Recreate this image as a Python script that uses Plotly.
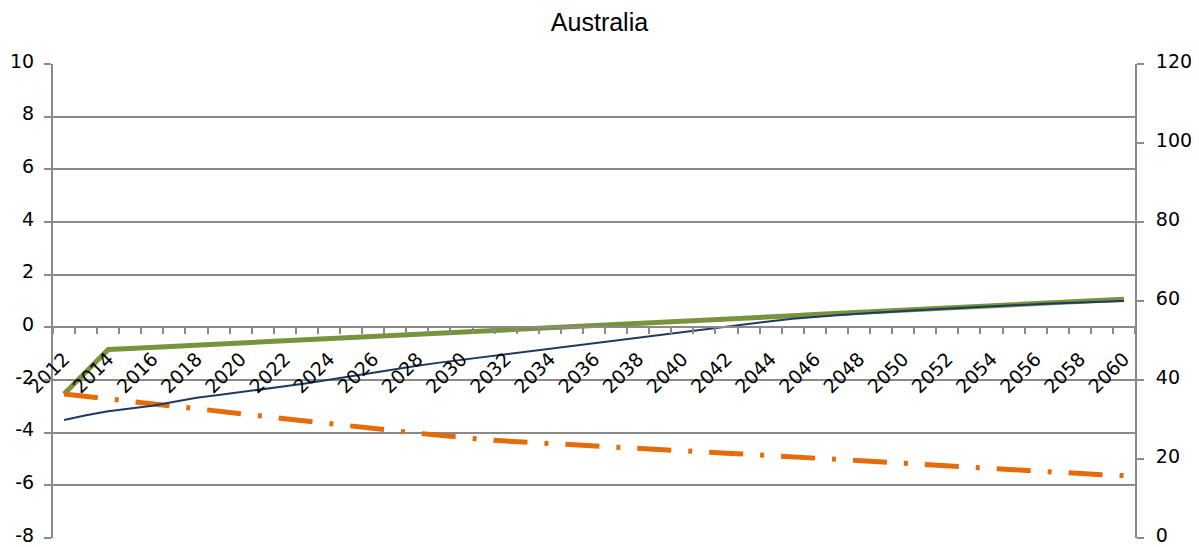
import plotly.graph_objects as go

years = list(range(2012, 2061))

# Green series (left axis)
green = [-2.53, -1.69, -0.84, -0.80, -0.76, -0.72, -0.68, -0.64, -0.60, -0.56,
         -0.51, -0.47, -0.43, -0.39, -0.34, -0.30, -0.26, -0.22, -0.18, -0.14,
         -0.10, -0.06, -0.02, 0.03, 0.07, 0.11, 0.15, 0.19, 0.23, 0.28,
         0.32, 0.36, 0.40, 0.44, 0.49, 0.53, 0.57, 0.61, 0.65, 0.70,
         0.74, 0.78, 0.82, 0.86, 0.91, 0.95, 0.99, 1.03, 1.07]

# Navy series (right axis)
navy = [29.9, 31.1, 32.1, 32.8, 33.5, 34.5, 35.5, 36.2, 36.9, 37.6,
        38.4, 39.2, 40.1, 41.0, 41.9, 42.8, 43.6, 44.4, 45.1, 45.8,
        46.6, 47.3, 48.0, 48.7, 49.4, 50.1, 50.8, 51.5, 52.2, 52.9,
        53.6, 54.3, 54.9, 55.5, 56.0, 56.4, 56.8, 57.2, 57.5, 57.8,
        58.1, 58.4, 58.7, 58.9, 59.2, 59.4, 59.6, 59.8, 60.0]

# Orange series (left axis)
orange = [-2.53, -2.62, -2.70, -2.80, -2.90, -2.99, -3.08, -3.18, -3.27, -3.37,
          -3.47, -3.57, -3.67, -3.76, -3.84, -3.93, -4.02, -4.11, -4.19, -4.26,
          -4.32, -4.37, -4.42, -4.46, -4.50, -4.54, -4.59, -4.64, -4.68, -4.73,
          -4.78, -4.82, -4.87, -4.92, -4.97, -5.01, -5.07, -5.13, -5.16, -5.21,
          -5.26, -5.31, -5.35, -5.41, -5.46, -5.51, -5.56, -5.60, -5.63]

label_years = years[::2]
tick_bounds = [y - 0.5 for y in years] + [years[-1] + 0.5]

left_ticks = [-8, -6, -4, -2, 0, 2, 4, 6, 8, 10]
left_text = [str(v) for v in left_ticks]          # plain hyphen minus
right_ticks = [0, 20, 40, 60, 80, 100, 120]
right_text = [str(v) for v in right_ticks]

GRID = "#8a8a8a"
FONT = "DejaVu Sans"

# page body has an 8px margin; figure is sized so the plot lands where the reference has it
W, H = 1191, 539

fig = go.Figure()
fig.add_trace(go.Scatter(x=years, y=green, mode="lines", yaxis="y",
                         line=dict(color="#77933C", width=5), hoverinfo="skip"))
fig.add_trace(go.Scatter(x=years, y=orange, mode="lines", yaxis="y",
                         line=dict(color="#E46C0A", width=5, dash="34px,17px,4px,17px"),
                         hoverinfo="skip"))
fig.add_trace(go.Scatter(x=years, y=navy, mode="lines", yaxis="y2",
                         line=dict(color="#1F3864", width=2), hoverinfo="skip"))

fig.update_layout(
    width=W, height=H,
    margin=dict(l=45, r=64, t=56, b=9, autoexpand=False),
    paper_bgcolor="white", plot_bgcolor="white",
    showlegend=False,
    font=dict(family=FONT, size=19, color="black"),
    title=dict(text="Australia", x=(599.5 - 8) / W, xref="container", xanchor="center",
               y=1 - 14 / H, yref="container", yanchor="middle", automargin=False,
               font=dict(family="Liberation Sans", size=25, color="black")),
    xaxis=dict(type="linear", range=[2011.5, 2060.5], anchor="free", position=8 / 18,
               automargin=False,
               tickmode="array", tickvals=label_years, ticktext=[str(y) for y in label_years],
               ticks="", tickangle=-45, showgrid=False, zeroline=False,
               showline=True, linecolor=GRID, linewidth=2, ticklabelstandoff=12,
               tickfont=dict(family=FONT, size=19),
               minor=dict(tickmode="array", tickvals=tick_bounds, ticks="outside",
                          ticklen=6, tickwidth=1.5, tickcolor=GRID, showgrid=False)),
    yaxis=dict(range=[-8, 10], tickmode="array", tickvals=left_ticks, ticktext=left_text,
               automargin=False,
               showgrid=True, gridcolor=GRID, gridwidth=1.6, zeroline=False,
               showline=True, linecolor=GRID, linewidth=2, ticks="outside", ticklen=7,
               tickcolor=GRID, tickwidth=1.5, ticklabelstandoff=6, ticklabelshift=-3,
               ticklabeloverflow="allow", tickfont=dict(family=FONT, size=19)),
    yaxis2=dict(range=[0, 120], tickmode="array", tickvals=right_ticks, ticktext=right_text,
                automargin=False,
                overlaying="y", side="right", showgrid=False,
                zeroline=False, showline=True, linecolor=GRID, linewidth=2,
                ticks="outside", ticklen=7, tickcolor=GRID, tickwidth=1.5,
                ticklabelstandoff=8, ticklabelshift=-3, ticklabeloverflow="allow",
                tickfont=dict(family=FONT, size=19)),
)

fig.write_html("out.html")
